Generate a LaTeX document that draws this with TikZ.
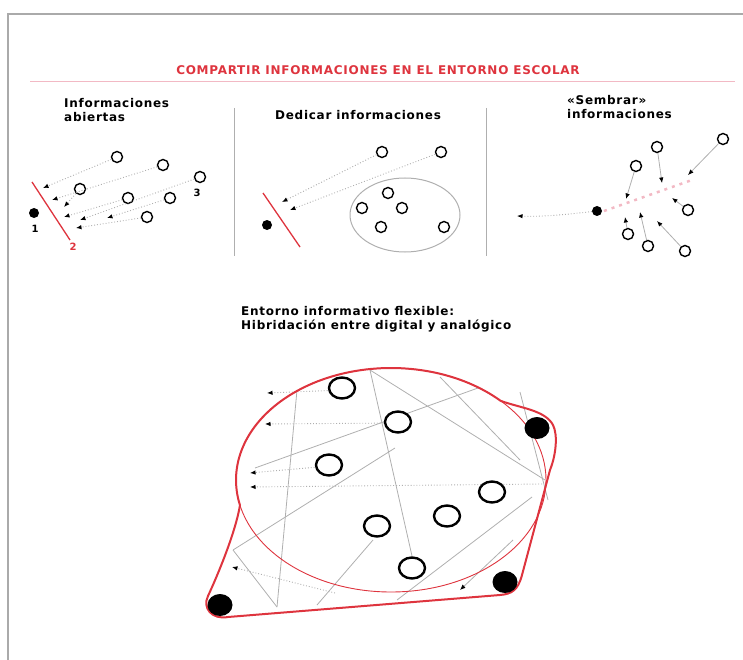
\documentclass[tikz,border=0pt]{standalone}
\usepackage{fontspec}
\usetikzlibrary{arrows.meta,shapes.geometric}
\newfontfamily\hfont{DejaVu Sans Bold}[LetterSpace=6]
\definecolor{tred}{RGB}{222,52,62}
\definecolor{tpink}{RGB}{242,185,196}
\definecolor{lgray}{RGB}{175,175,175}
\definecolor{frame}{RGB}{170,170,170}
\tikzset{
  hdr/.style={font=\hfont\fontsize{12}{14}\selectfont, inner sep=0pt, align=left},
  sc/.style={circle, draw=black, line width=1.4pt, inner sep=0pt, minimum size=11pt},
  bc/.style={ellipse, draw=black, line width=2.4pt, inner sep=0pt, minimum width=26pt, minimum height=21pt, fill=white},
  sdot/.style={circle, fill=black, inner sep=0pt, minimum size=10pt},
  bdot/.style={ellipse, fill=black, inner sep=0pt, minimum width=25pt, minimum height=22pt},
  dotl/.style={draw=lgray, dotted, line width=0.9pt},
  soll/.style={draw=lgray, line width=0.8pt},
  tip/.style={-{Latex[length=5.5pt,width=4.5pt,black]}},
}
\begin{document}
\begin{tikzpicture}[x=1pt,y=-1pt]
\useasboundingbox (0,0) rectangle (743,660);
% frame
\draw[frame, line width=2pt] (8,660) -- (8,14) -- (743,14);
% title
\node[hdr, text=tred, anchor=base] (title) at (378,75) {COMPARTIR INFORMACIONES EN EL ENTORNO ESCOLAR};
\draw[tpink, line width=1.8pt] (30,81.5) -- (735,81.5);
% separators
\draw[lgray, line width=1pt] (234,108) -- (234,256);
\draw[lgray, line width=1pt] (486,108) -- (486,256);
% headers
\node[hdr, anchor=base west] (h1) at (64,121.5) {Informaciones\\abiertas};
\node[hdr, anchor=base west] (h2) at (275,120) {Dedicar informaciones};
\node[hdr, anchor=base west] (h3) at (567,118.5) {«Sembrar»\\informaciones};
% ---------- panel 1
\draw[tred, line width=1.3pt] (32,182) -- (70,240);
\node[sdot] (p1d) at (34,213) {};
\node[font=\hfont\fontsize{10}{12}\selectfont] (n1) at (35,229) {1};
\node[font=\hfont\fontsize{10}{12}\selectfont, text=tred] (n2) at (73,247) {2};
\node[font=\hfont\fontsize{10}{12}\selectfont] (n3) at (197,193) {3};
\node[sc] (a1) at (117,157) {};
\node[sc] (a2) at (163,165) {};
\node[sc] (a3) at (200,177) {};
\node[sc] (a4) at (80,189) {};
\node[sc] (a5) at (128,198) {};
\node[sc] (a6) at (170,198) {};
\node[sc] (a7) at (147,217) {};
\coordinate (e1) at (43,188);
\coordinate (e2) at (52,200);
\coordinate (e3) at (80,220);
\coordinate (e4) at (64,207);
\coordinate (e5) at (64,217);
\coordinate (e6) at (107,218);
\coordinate (e7) at (76,228);
\foreach \i in {1,...,7} {\draw[dotl, tip] (a\i) -- (e\i);}
% ---------- panel 2
\draw[lgray, line width=1pt] (405,215) ellipse [x radius=55, y radius=37];
\draw[tred, line width=1.3pt] (263,193) -- (300,247);
\node[sdot] (p2d) at (267,225) {};
\node[sc] (b1) at (382,152) {};
\node[sc] (b2) at (441,152) {};
\node[sc] (b3) at (388,193) {};
\node[sc] (b4) at (362,208) {};
\node[sc] (b5) at (402,208) {};
\node[sc] (b6) at (381,227) {};
\node[sc] (b7) at (444,227) {};
\coordinate (f1) at (282,202);
\coordinate (f2) at (290,210);
\draw[dotl, tip] (b1) -- (f1);
\draw[dotl, tip] (b2) -- (f2);
% ---------- panel 3
\draw[tpink, line width=2.5pt, dash pattern=on 3pt off 5pt] (604,211) -- (692,180);
\node[sdot] (p3d) at (597,211) {};
\coordinate (g0) at (517,216);
\draw[dotl, tip] (p3d) .. controls (570,214) and (545,217) .. (g0);
\node[sc] (s1) at (636,166) {};
\node[sc] (s2) at (657,147) {};
\node[sc] (s3) at (723,139) {};
\node[sc] (s4) at (688,210) {};
\node[sc] (s5) at (628,234) {};
\node[sc] (s6) at (648,246) {};
\node[sc] (s7) at (685,251) {};
\coordinate (g1) at (626,199);
\coordinate (g2) at (662,183);
\coordinate (g3) at (688,175);
\coordinate (g4) at (672,198);
\coordinate (g5) at (625,217);
\coordinate (g6) at (640,212);
\coordinate (g7) at (657,221);
\foreach \i in {1,...,7} {\draw[soll, tip] (s\i) -- (g\i);}
% ---------- bottom
\node[hdr, anchor=base west] (h4) at (241,329) {Entorno informativo flexible:\\Hibridación entre digital y analógico};
% gray web
\draw[soll] (297,390) -- (277,607);
\draw[soll] (370,370) -- (412,556);
\draw[soll] (370,370) -- (545,480);
\draw[soll] (440,377) -- (520,460);
\draw[soll] (478,388) -- (255,468);
\draw[soll] (233,550) -- (395,448);
\draw[soll] (233,550) -- (277,607);
\draw[soll] (317,605) -- (373,540);
\draw[soll] (532,497) -- (397,600);
\draw[soll] (520,392) -- (548,500);
\draw[soll, tip] (513,540) -- (460,590);
% dotted arrows
\coordinate (q1) at (267,393);
\coordinate (q2) at (265,424);
\coordinate (q3) at (250,473);
\coordinate (q4) at (250,487);
\coordinate (q5) at (232,567);
\coordinate (q6) at (542,484);
\coordinate (q7) at (335,593);
\draw[dotl, tip] (342,390) -- (q1);
\draw[dotl, tip] (398,423) -- (q2);
\draw[dotl, tip] (329,466) -- (q3);
\draw[dotl, tip] (q6) -- (q4);
\draw[dotl, tip] (q7) -- (q5);
% red shapes
\draw[tred, line width=0.9pt] (391,480) ellipse [x radius=155, y radius=112];
\draw[tred, line width=2pt, line join=round]
  plot[domain=193:45, samples=80] ({391+155*cos(\x)},{480-112*sin(\x)})
  .. controls (520,408) and (545,410) .. (553,425)
  .. controls (558,435) and (556,455) .. (550,470)
  -- (522,575)
  .. controls (518,590) and (512,594) .. (500,595)
  -- (228,617)
  .. controls (212,620) and (202,608) .. (208,596)
  .. controls (220,570) and (236,530) .. (240,505);
\node[bdot] (d1) at (537,428) {};
\node[bdot] (d2) at (220,605) {};
\node[bdot] (d3) at (505,582) {};
\node[bc] (k1) at (342,388) {};
\node[bc] (k2) at (398,422) {};
\node[bc] (k3) at (329,465) {};
\node[bc] (k4) at (492,492) {};
\node[bc] (k5) at (447,516) {};
\node[bc] (k6) at (377,526) {};
\node[bc] (k7) at (412,568) {};
\end{tikzpicture}
\end{document}
